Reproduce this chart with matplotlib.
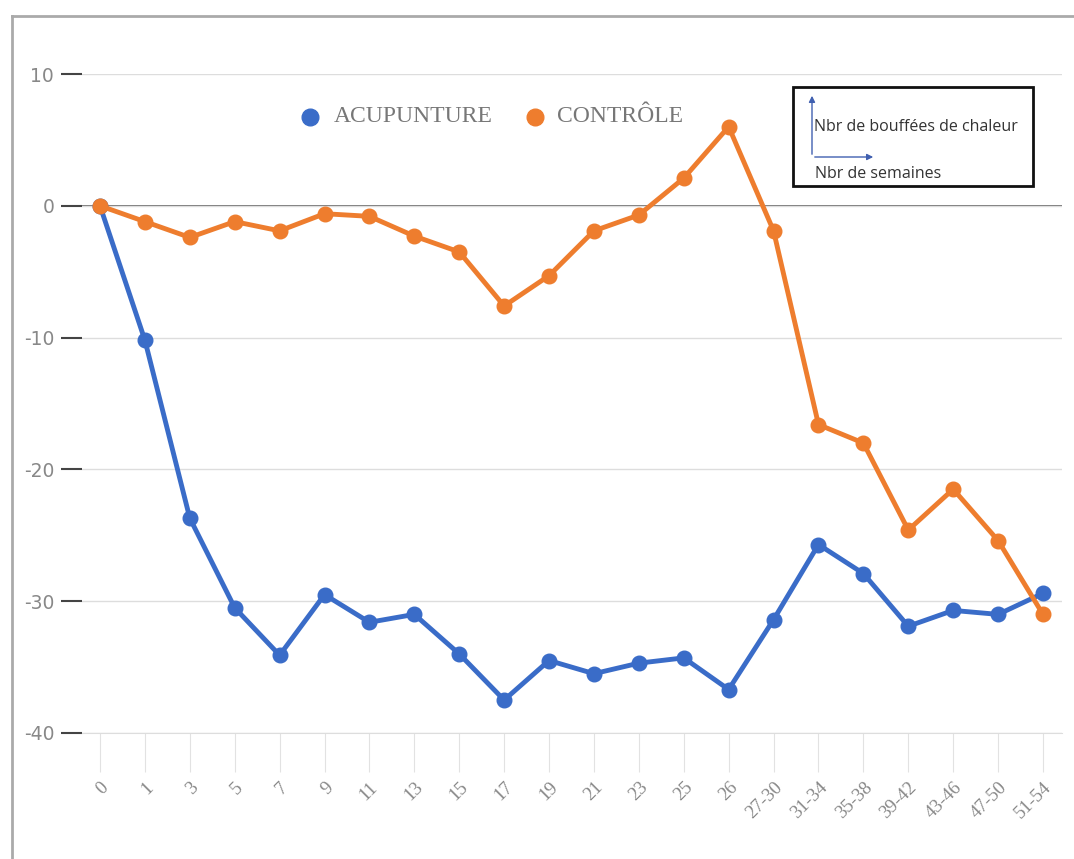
import matplotlib
matplotlib.use("Agg")
import matplotlib.pyplot as plt
from matplotlib.patches import Rectangle, FancyArrowPatch

# weeks since start, change in number of hot flushes
weeks = ["0", "1", "3", "5", "7", "9", "11", "13", "15", "17", "19", "21", "23",
         "25", "26", "27-30", "31-34", "35-38", "39-42", "43-46", "47-50", "51-54"]
acupuncture = [0, -10.2, -23.7, -30.5, -34.1, -29.5, -31.6, -31.0, -34.0, -37.5,
               -34.5, -35.5, -34.7, -34.3, -36.7, -31.4, -25.7, -27.9, -31.9,
               -30.7, -31.0, -29.4]
control = [0, -1.2, -2.4, -1.2, -1.9, -0.6, -0.8, -2.3, -3.5, -7.6, -5.3, -1.9,
           -0.7, 2.1, 6.0, -1.9, -16.6, -18.0, -24.6, -21.5, -25.4, -31.0]
yticks = [10, 0, -10, -20, -30, -40]

BLUE = "#3a6cc8"
ORANGE = "#ee7d2e"
W, H = 1074, 859

fig = plt.figure(figsize=(W / 100, H / 100), dpi=100)

# outer frame
fig.add_artist(plt.Line2D([12 / W, 1], [1 - 16 / H, 1 - 16 / H], color="#aaaaaa", lw=2))
fig.add_artist(plt.Line2D([12 / W, 12 / W], [0, 1 - 16 / H], color="#aaaaaa", lw=2))

left_px, right_px = 82, 1062
ax = fig.add_axes([left_px / W, 1 - 733 / H, (right_px - left_px) / W, (733 - 74) / H])
x = list(range(len(weeks)))
step = (1043 - 100) / (len(weeks) - 1)
ax.set_xlim(-(100 - left_px) / step, len(weeks) - 1 + (right_px - 1043) / step)
ax.set_ylim(-40, 10)

ax.grid(axis="y", color="#dddddd", lw=1)
ax.axhline(0, color="#555555", lw=1.2, zorder=1)
for s in ax.spines.values():
    s.set_visible(False)
ax.spines["bottom"].set_visible(True)
ax.spines["bottom"].set_color("#dddddd")

ax.plot(x, acupuncture, color=BLUE, lw=3.5, marker="o", ms=10.5, zorder=3,
        solid_capstyle="round")
ax.plot(x, control, color=ORANGE, lw=3.5, marker="o", ms=10.5, zorder=4,
        solid_capstyle="round")

ax.set_yticks(yticks)
ax.set_yticklabels([str(v) for v in yticks], color="#888888", fontsize=13.5)
ax.tick_params(axis="y", direction="out", length=15, width=1.5, color="#444444", pad=5)

ax.set_xticks(x)
ax.set_xticklabels(weeks, rotation=45, ha="right", rotation_mode="anchor",
                   family="Liberation Serif", color="#888888", fontsize=13.5)
ax.tick_params(axis="x", direction="out", length=28, width=0.8, color="#e2e2e2", pad=5)

# legend at the top of the plot area
fig.add_artist(plt.Line2D([310 / W], [1 - 117 / H], marker="o", ms=12, color=BLUE, lw=0))
fig.add_artist(plt.Line2D([535 / W], [1 - 117 / H], marker="o", ms=12, color=ORANGE, lw=0))
fig.text(334 / W, 1 - 117 / H, "ACUPUNTURE", family="Liberation Serif", fontsize=17,
         color="#777777", va="center")
fig.text(557 / W, 1 - 117 / H, "CONTRÔLE", family="Liberation Serif", fontsize=17,
         color="#777777", va="center")

# axis explanation box
fig.add_artist(Rectangle((793 / W, 1 - 186 / H), (1033 - 793) / W, (186 - 87) / H,
                         transform=fig.transFigure, fill=False, ec="#111111", lw=2))
fig.add_artist(FancyArrowPatch((812 / W, 1 - 157 / H), (812 / W, 1 - 93 / H),
                               transform=fig.transFigure, arrowstyle="-|>",
                               mutation_scale=9, color="#4060b0", lw=1))
fig.add_artist(FancyArrowPatch((812 / W, 1 - 157 / H), (876 / W, 1 - 157 / H),
                               transform=fig.transFigure, arrowstyle="-|>",
                               mutation_scale=9, color="#4060b0", lw=1))
fig.text(814 / W, 1 - 127 / H, "Nbr de bouffées de chaleur", fontsize=11.5,
         family="Open Sans", color="#333333", va="center")
fig.text(815 / W, 1 - 174 / H, "Nbr de semaines", fontsize=11.5,
         family="Open Sans", color="#333333", va="center")

fig.savefig("out.png", dpi=100)
